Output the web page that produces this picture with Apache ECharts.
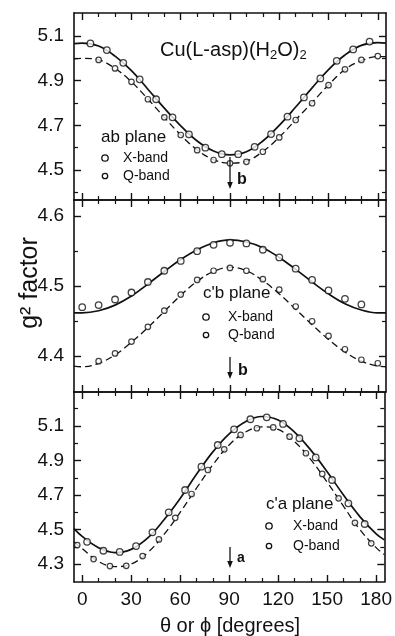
<!DOCTYPE html>
<html>
<head>
<meta charset="utf-8">
<script src="https://cdn.jsdelivr.net/npm/echarts@6.0.0/dist/echarts.min.js"></script>
<style>
  html, body { margin: 0; padding: 0; background: #fff; }
  #gChart { width: 395px; height: 636px; }
</style>
</head>
<body>
<div id="gChart"></div>
<script>
  var fitAngles = [-5, 0, 10, 20, 30, 40, 50, 60, 70, 80, 90, 100, 110, 120, 130, 140, 150, 160, 170, 180, 185];

  // ab plane
  var abXFit = [5.066, 5.068, 5.055, 5.01, 4.945, 4.862, 4.777, 4.698, 4.63, 4.585, 4.568, 4.582, 4.63, 4.70, 4.782, 4.868, 4.95, 5.015, 5.058, 5.07, 5.068];
  var abQFit = [4.998, 5.0, 4.993, 4.955, 4.895, 4.818, 4.736, 4.657, 4.59, 4.547, 4.531, 4.540, 4.583, 4.647, 4.725, 4.802, 4.881, 4.95, 4.99, 5.008, 5.008];
  var abXAngles = [5, 15, 25, 35, 45, 55, 65, 75, 85, 95, 105, 115, 125, 135, 145, 155, 165, 175];
  var abXPoints = [5.067, 5.037, 4.98, 4.906, 4.817, 4.736, 4.66, 4.60, 4.571, 4.571, 4.604, 4.661, 4.739, 4.825, 4.91, 4.989, 5.04, 5.075];
  var abQAngles = [10, 20, 30, 40, 50, 60, 70, 80, 90, 100, 110, 120, 130, 140, 150, 160, 170, 180];
  var abQPoints = [4.993, 4.955, 4.895, 4.817, 4.736, 4.657, 4.589, 4.545, 4.53, 4.537, 4.582, 4.646, 4.724, 4.799, 4.88, 4.951, 4.993, 5.01];

  // c'b plane
  var cbXFit = [4.462, 4.462, 4.465, 4.473, 4.486, 4.503, 4.521, 4.538, 4.552, 4.562, 4.566, 4.563, 4.555, 4.541, 4.524, 4.506, 4.489, 4.475, 4.466, 4.462, 4.462];
  var cbQFit = [4.386, 4.385, 4.39, 4.402, 4.42, 4.441, 4.464, 4.487, 4.507, 4.521, 4.527, 4.522, 4.508, 4.489, 4.467, 4.445, 4.424, 4.406, 4.393, 4.386, 4.385];
  var cbXAngles = [0, 10, 20, 30, 40, 50, 60, 70, 80, 90, 100, 110, 120, 130, 140, 150, 160, 170];
  var cbXPoints = [4.470, 4.473, 4.481, 4.491, 4.506, 4.522, 4.536, 4.550, 4.559, 4.562, 4.561, 4.552, 4.541, 4.525, 4.509, 4.494, 4.482, 4.474];
  var cbQAngles = [10, 20, 30, 40, 50, 60, 70, 80, 90, 100, 110, 120, 130, 140, 150, 160, 170, 180];
  var cbQPoints = [4.393, 4.404, 4.421, 4.442, 4.465, 4.488, 4.509, 4.522, 4.526, 4.522, 4.51, 4.495, 4.471, 4.45, 4.429, 4.410, 4.395, 4.39];

  // c'a plane
  var caXFit = [4.505, 4.46, 4.395, 4.366, 4.385, 4.45, 4.555, 4.68, 4.82, 4.95, 5.055, 5.125, 5.155, 5.135, 5.065, 4.96, 4.835, 4.70, 4.575, 4.475, 4.44];
  var caQFit = [4.43, 4.39, 4.315, 4.285, 4.30, 4.365, 4.47, 4.60, 4.74, 4.875, 4.99, 5.065, 5.095, 5.08, 5.01, 4.905, 4.775, 4.635, 4.50, 4.395, 4.355];
  var caXAngles = [3, 13, 23, 33, 43, 53, 63, 73, 83, 93, 103, 113, 123, 133, 143, 153, 163, 173];
  var caXPoints = [4.429, 4.377, 4.370, 4.404, 4.484, 4.60, 4.729, 4.864, 4.99, 5.081, 5.139, 5.15, 5.112, 5.029, 4.918, 4.787, 4.652, 4.532];
  var caQAngles = [-3, 7, 17, 27, 37, 47, 57, 67, 77, 87, 97, 107, 117, 127, 137, 147, 157, 167, 177];
  var caQPoints = [4.41, 4.329, 4.288, 4.29, 4.346, 4.443, 4.568, 4.706, 4.845, 4.965, 5.048, 5.087, 5.092, 5.038, 4.942, 4.822, 4.681, 4.539, 4.42];

  // tick values
  var xMajor = [0, 30, 60, 90, 120, 150, 180];
  var xMinor = [10, 20, 40, 50, 70, 80, 100, 110, 130, 140, 160, 170];
  var abYMajor = [4.5, 4.7, 4.9, 5.1];
  var abYMinor = [4.4, 4.6, 4.8, 5.0];
  var cbYMajor = [4.4, 4.5, 4.6];
  var cbYMinor = [4.45, 4.55];
  var caYMajor = [4.3, 4.5, 4.7, 4.9, 5.1];
  var caYMinor = [4.4, 4.6, 4.8, 5.0, 5.2];

  function pair(xs, ys) {
    return xs.map(function (x, i) { return [x, ys[i]]; });
  }

  var FONT = 'Liberation Sans, Arial, sans-serif';
  var INK = '#111';

  var panels = [
    {top: 13, height: 187, min: 4.366, max: 5.203, major: abYMajor, minor: abYMinor, yDec: 1,
      xFit: abXFit, qFit: abQFit, xPts: pair(abXAngles, abXPoints), qPts: pair(abQAngles, abQPoints)},
    {top: 200, height: 192, min: 4.349, max: 4.623, major: cbYMajor, minor: cbYMinor, yDec: 1,
      xFit: cbXFit, qFit: cbQFit, xPts: pair(cbXAngles, cbXPoints), qPts: pair(cbQAngles, cbQPoints)},
    {top: 392, height: 190, min: 4.196, max: 5.297, major: caYMajor, minor: caYMinor, yDec: 1,
      xFit: caXFit, qFit: caQFit, xPts: pair(caXAngles, caXPoints), qPts: pair(caQAngles, caQPoints)}
  ];

  var grids = [], xAxes = [], yAxes = [], series = [];
  var lineStyle = {color: INK, width: 1.6};

  panels.forEach(function (p, i) {
    grids.push({left: 74, right: 9, top: p.top, height: p.height, containLabel: false});

    ['bottom', 'top'].forEach(function (pos) {
      // major ticks + frame line
      xAxes.push({
        gridIndex: i, type: 'value', position: pos, min: -5, max: 185,
        axisLine: {show: true, onZero: false, lineStyle: lineStyle},
        axisTick: {show: true, inside: true, length: 7, customValues: xMajor, lineStyle: {color: INK, width: 1.4}},
        axisLabel: {show: pos === 'bottom' && i === 2, customValues: xMajor, margin: 8,
          color: INK, fontSize: 19, fontFamily: FONT},
        splitLine: {show: false}
      });
      // minor ticks
      xAxes.push({
        gridIndex: i, type: 'value', position: pos, min: -5, max: 185,
        axisLine: {show: false, onZero: false},
        axisTick: {show: true, inside: true, length: 4, customValues: xMinor, lineStyle: {color: INK, width: 1.2}},
        axisLabel: {show: false},
        splitLine: {show: false}
      });
    });

    ['left', 'right'].forEach(function (pos) {
      yAxes.push({
        gridIndex: i, type: 'value', position: pos, min: p.min, max: p.max,
        axisLine: {show: true, onZero: false, lineStyle: lineStyle},
        axisTick: {show: true, inside: true, length: 7, customValues: p.major, lineStyle: {color: INK, width: 1.4}},
        axisLabel: {show: pos === 'left', customValues: p.major, margin: 10,
          color: INK, fontSize: 19, fontFamily: FONT,
          formatter: function (v) { return v.toFixed(p.yDec); }},
        splitLine: {show: false}
      });
      yAxes.push({
        gridIndex: i, type: 'value', position: pos, min: p.min, max: p.max,
        axisLine: {show: false, onZero: false},
        axisTick: {show: true, inside: true, length: 4, customValues: p.minor, lineStyle: {color: INK, width: 1.2}},
        axisLabel: {show: false},
        splitLine: {show: false}
      });
    });

    var xi = i * 4, yi = i * 4;
    series.push({
      type: 'line', xAxisIndex: xi, yAxisIndex: yi, data: pair(fitAngles, p.xFit),
      smooth: 0.4, showSymbol: false, silent: true, z: 2,
      lineStyle: {color: INK, width: 1.7}
    });
    series.push({
      type: 'line', xAxisIndex: xi, yAxisIndex: yi, data: pair(fitAngles, p.qFit),
      smooth: 0.4, showSymbol: false, silent: true, z: 2,
      lineStyle: {color: INK, width: 1.3, type: [7, 4]}
    });
    series.push({
      type: 'scatter', xAxisIndex: xi, yAxisIndex: yi, data: p.xPts,
      symbol: 'circle', symbolSize: 6.5, z: 3,
      itemStyle: {color: '#fff', borderColor: INK, borderWidth: 1.3}
    });
    series.push({
      type: 'scatter', xAxisIndex: xi, yAxisIndex: yi, data: p.qPts,
      symbol: 'circle', symbolSize: 5.5, z: 3,
      itemStyle: {color: '#fff', borderColor: INK, borderWidth: 1.2}
    });
  });

  var myChart = echarts.init(document.getElementById('gChart'));
  myChart.setOption({
    animation: false,
    backgroundColor: '#fff',
    grid: grids,
    xAxis: xAxes,
    yAxis: yAxes,
    series: series
  });

  // annotations
  var ax90 = myChart.convertToPixel({xAxisIndex: 0}, 90);

  function label(x, y, text, size, extra) {
    var st = {text: text, x: 0, y: 0, fill: INK, font: (extra && extra.weight || 'normal') + ' ' + size + 'px ' + FONT,
      align: 'left', verticalAlign: 'middle'};
    return {type: 'text', x: x, y: y, z: 10, style: st};
  }
  function marker(x, y, r) {
    return {type: 'circle', z: 10, shape: {cx: x, cy: y, r: r},
      style: {fill: '#fff', stroke: INK, lineWidth: 1.3}};
  }
  function arrow(x, y1, y2) {
    return [
      {type: 'line', z: 10, shape: {x1: x, y1: y1, x2: x, y2: y2 - 5}, style: {stroke: INK, lineWidth: 1.3}},
      {type: 'polygon', z: 10, shape: {points: [[x - 2.8, y2 - 7], [x + 2.8, y2 - 7], [x, y2]]}, style: {fill: INK}}
    ];
  }

  var g = [];
  // title
  g.push({type: 'text', x: 160, y: 50, z: 10, style: {
    text: '{m|Cu(L-asp)(H}{s|2}{m|O)}{s|2}', align: 'left', verticalAlign: 'middle',
    rich: {
      m: {fontSize: 20, fontFamily: FONT, fill: INK, color: INK, lineHeight: 24, verticalAlign: 'middle'},
      s: {fontSize: 13, fontFamily: FONT, fill: INK, color: INK, lineHeight: 13, verticalAlign: 'bottom'}
    }
  }});

  // ab plane
  g.push(label(101, 137, 'ab plane', 17));
  g.push(marker(105, 158, 3.2));
  g.push(label(123, 158, 'X-band', 14));
  g.push(marker(105, 176, 2.7));
  g.push(label(123, 176, 'Q-band', 14));
  g = g.concat(arrow(ax90, 157, 189));
  g.push(label(237, 180, 'b', 16, {weight: 'bold'}));

  // c'b plane
  g.push(label(203, 293, "c'b plane", 17));
  g.push(marker(206, 317, 3.2));
  g.push(label(228, 317, 'X-band', 14));
  g.push(marker(206, 335, 2.7));
  g.push(label(228, 335, 'Q-band', 14));
  g = g.concat(arrow(ax90, 357, 379));
  g.push(label(238, 371, 'b', 16, {weight: 'bold'}));

  // c'a plane
  g.push(label(266, 504, "c'a plane", 17));
  g.push(marker(269, 526, 3.2));
  g.push(label(293, 526, 'X-band', 14));
  g.push(marker(269, 546, 2.7));
  g.push(label(293, 546, 'Q-band', 14));
  g = g.concat(arrow(ax90, 547, 568));
  g.push(label(237, 558, 'a', 14, {weight: 'bold'}));

  // axis titles
  g.push({type: 'text', x: 30, y: 283, rotation: Math.PI / 2, z: 10, style: {
    text: 'g\u00b2 factor', fill: INK, font: '25px ' + FONT, align: 'center', verticalAlign: 'middle'}});
  g.push({type: 'text', x: 230, y: 626, z: 10, style: {
    text: '\u03b8 or \u03d5 [degrees]', fill: INK, font: '20px ' + FONT, align: 'center', verticalAlign: 'middle'}});

  myChart.setOption({graphic: {elements: g}});
</script>
</body>
</html>
